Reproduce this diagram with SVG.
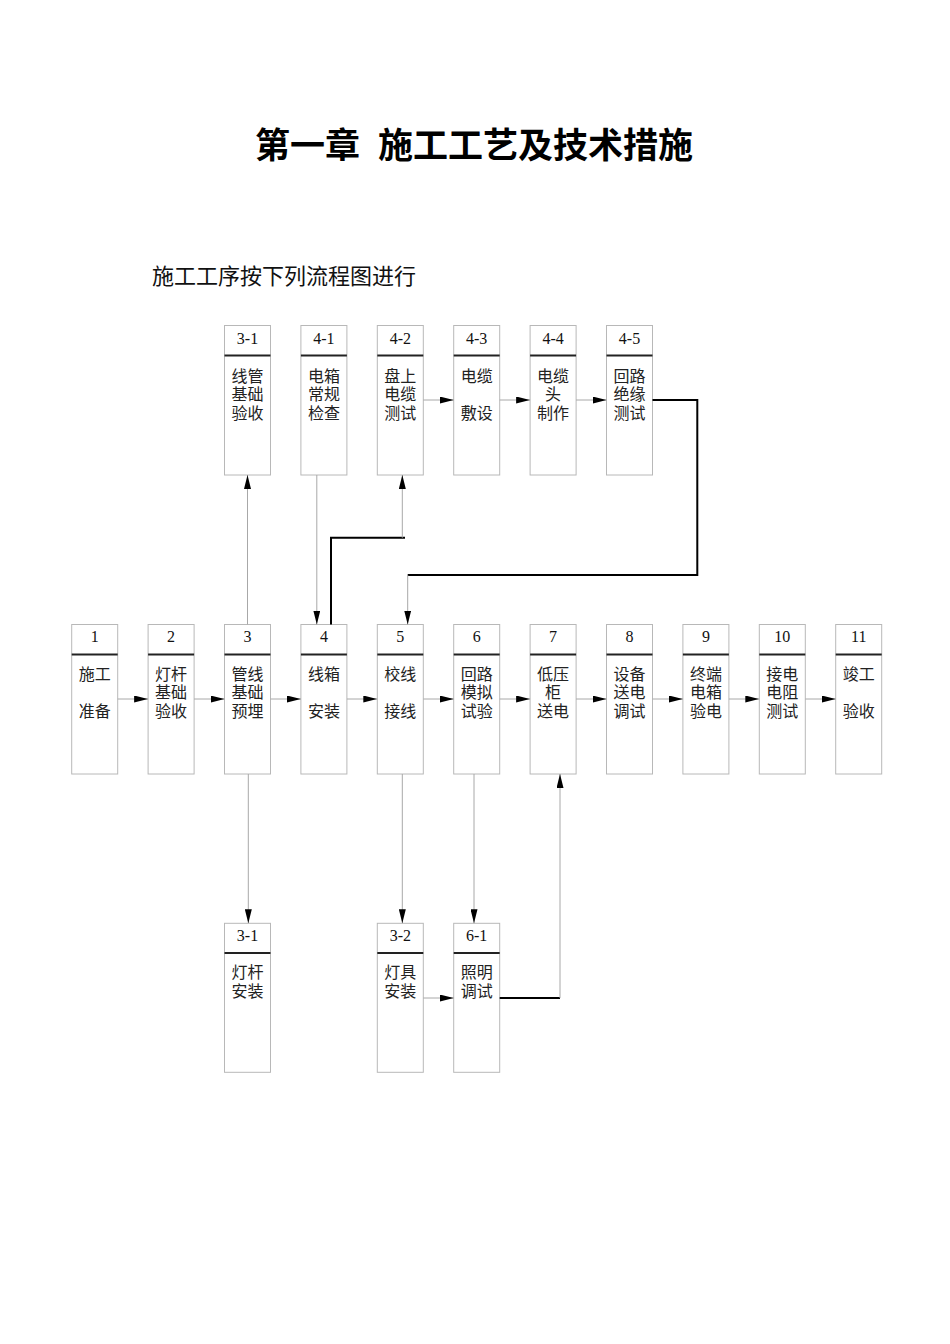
<svg xmlns="http://www.w3.org/2000/svg" width="950" height="1344" viewBox="0 0 950 1344">
<style>
.box{fill:#fff;stroke:#b8b8b8;stroke-width:1}
.hdr{stroke:#222;stroke-width:2}
.num{font-family:"Liberation Serif","Noto Sans CJK SC",serif;font-size:16px;fill:#111;text-anchor:middle}
.lbl{font-family:"Noto Sans CJK SC","Liberation Serif",sans-serif;font-size:16px;fill:#222;text-anchor:middle}
.thin{fill:none;stroke:#a8a8a8;stroke-width:1}
.thick{fill:none;stroke:#000;stroke-width:2}
.title{font-family:"Noto Sans CJK SC",sans-serif;font-size:35px;font-weight:bold;fill:#000}
.sub{font-family:"Noto Sans CJK SC",sans-serif;font-size:22px;fill:#111}
</style>
<defs>
<marker id="ah" viewBox="0 0 14 7" refX="14" refY="3.5" markerWidth="14" markerHeight="7" markerUnits="userSpaceOnUse" orient="auto">
<path d="M0,0 L14,3.5 L0,7 z" fill="#000"/>
</marker>
</defs>
<text class="title" x="255" y="158">第一章</text>
<text class="title" x="378" y="158">施工工艺及技术措施</text>
<text class="sub" x="152" y="284">施工工序按下列流程图进行</text>

<!-- top row -->
<g id="n3-1"><rect class="box" x="224.5" y="325.5" width="46" height="149.5"/><line class="hdr" x1="224.5" y1="355.5" x2="270.5" y2="355.5"/><text class="num" x="247.5" y="343.5">3-1</text><text class="lbl" x="247.5" y="381.5">线管</text><text class="lbl" x="247.5" y="400">基础</text><text class="lbl" x="247.5" y="418.5">验收</text></g>
<g id="n4-1"><rect class="box" x="300.9" y="325.5" width="46" height="149.5"/><line class="hdr" x1="300.9" y1="355.5" x2="346.9" y2="355.5"/><text class="num" x="323.9" y="343.5">4-1</text><text class="lbl" x="323.9" y="381.5">电箱</text><text class="lbl" x="323.9" y="400">常规</text><text class="lbl" x="323.9" y="418.5">检查</text></g>
<g id="n4-2"><rect class="box" x="377.3" y="325.5" width="46" height="149.5"/><line class="hdr" x1="377.3" y1="355.5" x2="423.3" y2="355.5"/><text class="num" x="400.3" y="343.5">4-2</text><text class="lbl" x="400.3" y="381.5">盘上</text><text class="lbl" x="400.3" y="400">电缆</text><text class="lbl" x="400.3" y="418.5">测试</text></g>
<g id="n4-3"><rect class="box" x="453.7" y="325.5" width="46" height="149.5"/><line class="hdr" x1="453.7" y1="355.5" x2="499.7" y2="355.5"/><text class="num" x="476.7" y="343.5">4-3</text><text class="lbl" x="476.7" y="381.5">电缆</text><text class="lbl" x="476.7" y="418.5">敷设</text></g>
<g id="n4-4"><rect class="box" x="530.1" y="325.5" width="46" height="149.5"/><line class="hdr" x1="530.1" y1="355.5" x2="576.1" y2="355.5"/><text class="num" x="553.1" y="343.5">4-4</text><text class="lbl" x="553.1" y="381.5">电缆</text><text class="lbl" x="553.1" y="400">头</text><text class="lbl" x="553.1" y="418.5">制作</text></g>
<g id="n4-5"><rect class="box" x="606.5" y="325.5" width="46" height="149.5"/><line class="hdr" x1="606.5" y1="355.5" x2="652.5" y2="355.5"/><text class="num" x="629.5" y="343.5">4-5</text><text class="lbl" x="629.5" y="381.5">回路</text><text class="lbl" x="629.5" y="400">绝缘</text><text class="lbl" x="629.5" y="418.5">测试</text></g>

<!-- middle row -->
<g id="n1"><rect class="box" x="71.7" y="624.5" width="46" height="149.5"/><line class="hdr" x1="71.7" y1="654.5" x2="117.7" y2="654.5"/><text class="num" x="94.7" y="642">1</text><text class="lbl" x="94.7" y="679.5">施工</text><text class="lbl" x="94.7" y="716.5">准备</text></g>
<g id="n2"><rect class="box" x="148.1" y="624.5" width="46" height="149.5"/><line class="hdr" x1="148.1" y1="654.5" x2="194.1" y2="654.5"/><text class="num" x="171.1" y="642">2</text><text class="lbl" x="171.1" y="679.5">灯杆</text><text class="lbl" x="171.1" y="698">基础</text><text class="lbl" x="171.1" y="716.5">验收</text></g>
<g id="n3"><rect class="box" x="224.5" y="624.5" width="46" height="149.5"/><line class="hdr" x1="224.5" y1="654.5" x2="270.5" y2="654.5"/><text class="num" x="247.5" y="642">3</text><text class="lbl" x="247.5" y="679.5">管线</text><text class="lbl" x="247.5" y="698">基础</text><text class="lbl" x="247.5" y="716.5">预埋</text></g>
<g id="n4"><rect class="box" x="300.9" y="624.5" width="46" height="149.5"/><line class="hdr" x1="300.9" y1="654.5" x2="346.9" y2="654.5"/><text class="num" x="323.9" y="642">4</text><text class="lbl" x="323.9" y="679.5">线箱</text><text class="lbl" x="323.9" y="716.5">安装</text></g>
<g id="n5"><rect class="box" x="377.3" y="624.5" width="46" height="149.5"/><line class="hdr" x1="377.3" y1="654.5" x2="423.3" y2="654.5"/><text class="num" x="400.3" y="642">5</text><text class="lbl" x="400.3" y="679.5">校线</text><text class="lbl" x="400.3" y="716.5">接线</text></g>
<g id="n6"><rect class="box" x="453.7" y="624.5" width="46" height="149.5"/><line class="hdr" x1="453.7" y1="654.5" x2="499.7" y2="654.5"/><text class="num" x="476.7" y="642">6</text><text class="lbl" x="476.7" y="679.5">回路</text><text class="lbl" x="476.7" y="698">模拟</text><text class="lbl" x="476.7" y="716.5">试验</text></g>
<g id="n7"><rect class="box" x="530.1" y="624.5" width="46" height="149.5"/><line class="hdr" x1="530.1" y1="654.5" x2="576.1" y2="654.5"/><text class="num" x="553.1" y="642">7</text><text class="lbl" x="553.1" y="679.5">低压</text><text class="lbl" x="553.1" y="698">柜</text><text class="lbl" x="553.1" y="716.5">送电</text></g>
<g id="n8"><rect class="box" x="606.5" y="624.5" width="46" height="149.5"/><line class="hdr" x1="606.5" y1="654.5" x2="652.5" y2="654.5"/><text class="num" x="629.5" y="642">8</text><text class="lbl" x="629.5" y="679.5">设备</text><text class="lbl" x="629.5" y="698">送电</text><text class="lbl" x="629.5" y="716.5">调试</text></g>
<g id="n9"><rect class="box" x="682.9" y="624.5" width="46" height="149.5"/><line class="hdr" x1="682.9" y1="654.5" x2="728.9" y2="654.5"/><text class="num" x="705.9" y="642">9</text><text class="lbl" x="705.9" y="679.5">终端</text><text class="lbl" x="705.9" y="698">电箱</text><text class="lbl" x="705.9" y="716.5">验电</text></g>
<g id="n10"><rect class="box" x="759.3" y="624.5" width="46" height="149.5"/><line class="hdr" x1="759.3" y1="654.5" x2="805.3" y2="654.5"/><text class="num" x="782.3" y="642">10</text><text class="lbl" x="782.3" y="679.5">接电</text><text class="lbl" x="782.3" y="698">电阻</text><text class="lbl" x="782.3" y="716.5">测试</text></g>
<g id="n11"><rect class="box" x="835.7" y="624.5" width="46" height="149.5"/><line class="hdr" x1="835.7" y1="654.5" x2="881.7" y2="654.5"/><text class="num" x="858.7" y="642">11</text><text class="lbl" x="858.7" y="679.5">竣工</text><text class="lbl" x="858.7" y="716.5">验收</text></g>

<!-- bottom row -->
<g id="nb3-1"><rect class="box" x="224.5" y="923.3" width="46" height="149"/><line class="hdr" x1="224.5" y1="953" x2="270.5" y2="953"/><text class="num" x="247.5" y="941">3-1</text><text class="lbl" x="247.5" y="978">灯杆</text><text class="lbl" x="247.5" y="996.5">安装</text></g>
<g id="nb3-2"><rect class="box" x="377.3" y="923.3" width="46" height="149"/><line class="hdr" x1="377.3" y1="953" x2="423.3" y2="953"/><text class="num" x="400.3" y="941">3-2</text><text class="lbl" x="400.3" y="978">灯具</text><text class="lbl" x="400.3" y="996.5">安装</text></g>
<g id="nb6-1"><rect class="box" x="453.7" y="923.3" width="46" height="149"/><line class="hdr" x1="453.7" y1="953" x2="499.7" y2="953"/><text class="num" x="476.7" y="941">6-1</text><text class="lbl" x="476.7" y="978">照明</text><text class="lbl" x="476.7" y="996.5">调试</text></g>

<g id="connectors">
<!-- top row horizontal -->
<line class="thin" x1="423.3" y1="400" x2="453.7" y2="400" marker-end="url(#ah)"/>
<line class="thin" x1="499.7" y1="400" x2="530.1" y2="400" marker-end="url(#ah)"/>
<line class="thin" x1="576.1" y1="400" x2="606.5" y2="400" marker-end="url(#ah)"/>
<!-- middle row horizontal -->
<line class="thin" x1="117.7" y1="699" x2="148.1" y2="699" marker-end="url(#ah)"/>
<line class="thin" x1="194.1" y1="699" x2="224.5" y2="699" marker-end="url(#ah)"/>
<line class="thin" x1="270.5" y1="699" x2="300.9" y2="699" marker-end="url(#ah)"/>
<line class="thin" x1="346.9" y1="699" x2="377.3" y2="699" marker-end="url(#ah)"/>
<line class="thin" x1="423.3" y1="699" x2="453.7" y2="699" marker-end="url(#ah)"/>
<line class="thin" x1="499.7" y1="699" x2="530.1" y2="699" marker-end="url(#ah)"/>
<line class="thin" x1="576.1" y1="699" x2="606.5" y2="699" marker-end="url(#ah)"/>
<line class="thin" x1="652.5" y1="699" x2="682.9" y2="699" marker-end="url(#ah)"/>
<line class="thin" x1="728.9" y1="699" x2="759.3" y2="699" marker-end="url(#ah)"/>
<line class="thin" x1="805.3" y1="699" x2="835.7" y2="699" marker-end="url(#ah)"/>
<!-- 3 up to 3-1 -->
<line class="thin" x1="247.5" y1="624.5" x2="247.5" y2="475" marker-end="url(#ah)"/>
<!-- 4-1 down to 4 -->
<line class="thin" x1="316.8" y1="475" x2="316.8" y2="624.5" marker-end="url(#ah)"/>
<!-- 4 up to 4-2 -->
<polyline class="thick" points="331,624.5 331,537.7 405,537.7"/>
<line class="thin" x1="402.3" y1="537.7" x2="402.3" y2="475" marker-end="url(#ah)"/>
<!-- 4-5 to 5 -->
<polyline class="thick" points="652.5,400 697.3,400 697.3,575 407.7,575"/>
<line class="thin" x1="407.7" y1="575" x2="407.7" y2="624.5" marker-end="url(#ah)"/>
<!-- down to bottom row -->
<line class="thin" x1="248.3" y1="774" x2="248.3" y2="923.3" marker-end="url(#ah)"/>
<line class="thin" x1="402.3" y1="774" x2="402.3" y2="923.3" marker-end="url(#ah)"/>
<line class="thin" x1="474" y1="774" x2="474" y2="923.3" marker-end="url(#ah)"/>
<!-- 3-2 to 6-1 -->
<line class="thin" x1="423.3" y1="998" x2="453.7" y2="998" marker-end="url(#ah)"/>
<!-- 6-1 to 7 -->
<polyline class="thick" points="499.7,998 560,998"/>
<line class="thin" x1="560" y1="998" x2="560" y2="774" marker-end="url(#ah)"/>
</g>
</svg>
